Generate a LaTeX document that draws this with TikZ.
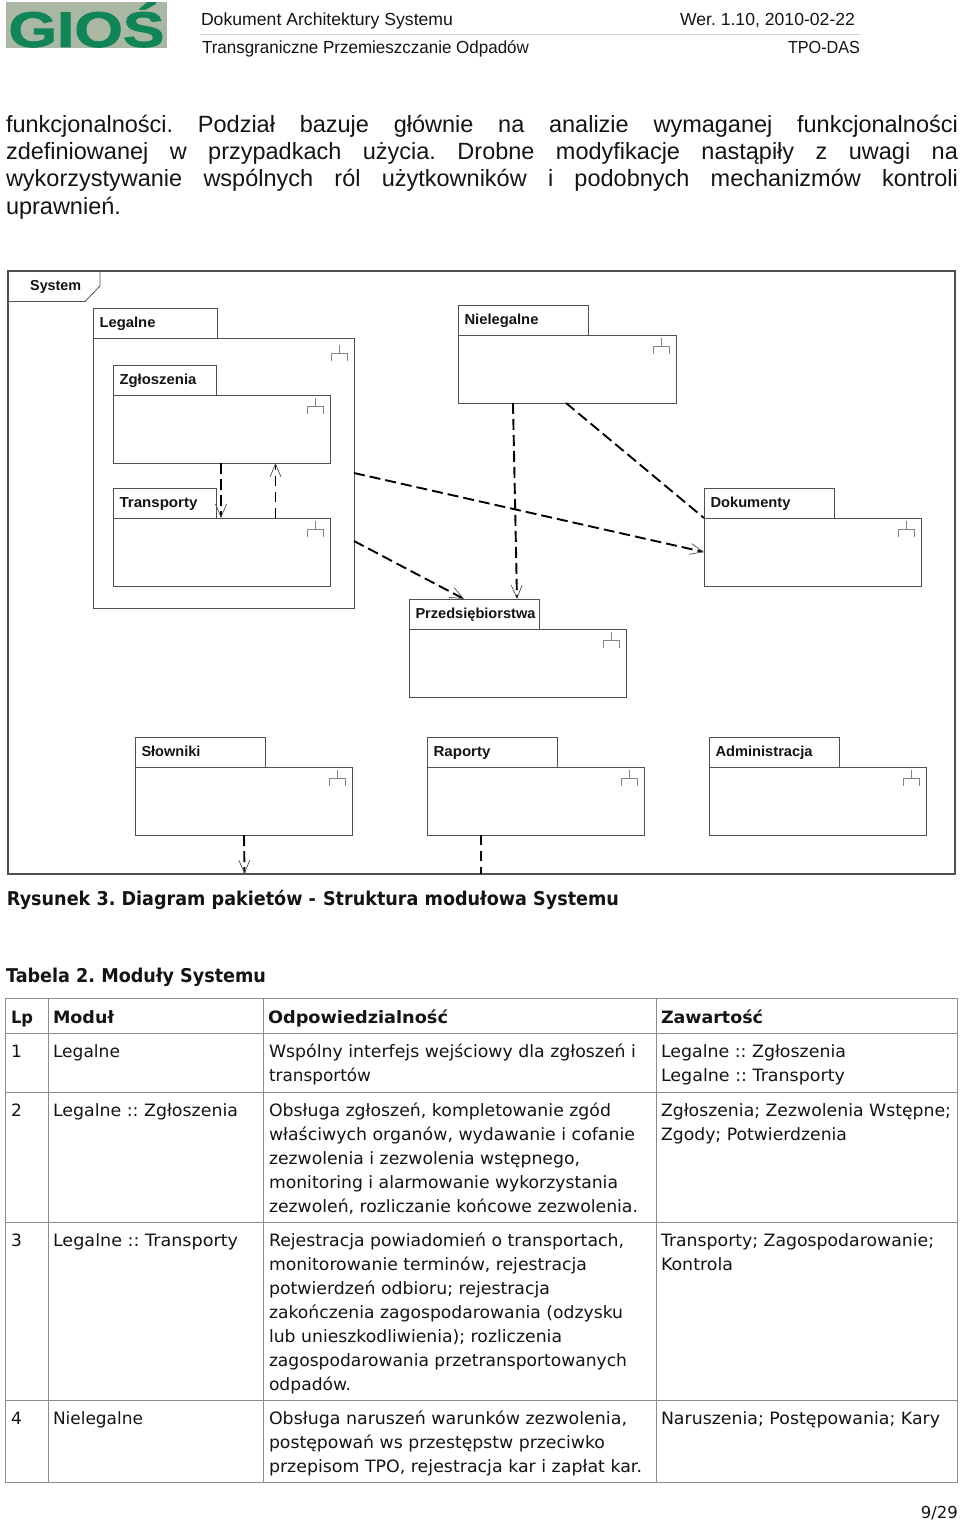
\documentclass[tikz,border=0pt]{standalone}
\usepackage{graphicx}
\usepackage{fontspec}
\setmainfont{Liberation Sans}
\newfontfamily\tblfont{DejaVu Sans}
\newfontfamily\logofont[BoldFeatures={FakeBold=1.6}]{Liberation Sans}
\AtBeginDocument{\frenchspacing}
\usetikzlibrary{arrows.meta}
\definecolor{pkline}{HTML}{505050}
\definecolor{gridc}{HTML}{8C8C8C}
\definecolor{txt}{HTML}{141414}
\definecolor{logobg}{HTML}{A9B7A3}
\definecolor{logog}{HTML}{0F8558}
\newcommand{\fitl}[2]{\strut\resizebox{#1pt}{\height}{#2}}
\newcommand{\fitb}[2]{\resizebox{#1pt}{\height}{#2}}
\tikzset{
  pkbody/.style={draw=pkline,line width=.9pt,fill=white,rectangle,inner sep=0pt,outer sep=0pt,anchor=north west},
  pktab/.style={draw=pkline,line width=.9pt,rectangle,inner ysep=0pt,inner xsep=6.5pt,outer sep=0pt,anchor=north west,align=left,text height=11.5pt,text depth=3.5pt,font=\bfseries\fontsize{14.5}{16}\selectfont,text=txt},
  pkicon/.style={draw=pkline!70,line width=.7pt},
  dep/.style={draw=black,line width=1.9pt,dash pattern=on 11pt off 5pt},
  depthin/.style={draw=black,line width=1.2pt,dash pattern=on 10pt off 6pt},
  openhead/.style={-{Straight Barb[length=13pt,width=11pt,line width=.7pt,color=pkline]}},
  cell/.style={anchor=north west,inner sep=0pt,outer sep=0pt,align=left,text=txt,font=\tblfont\fontsize{17}{24}\selectfont},
  headcell/.style={cell,font=\tblfont\bfseries\fontsize{17}{24}\selectfont},
  gridline/.style={draw=gridc,line width=.9pt},
  head/.style={anchor=base west,inner sep=0pt,outer sep=0pt,text=txt,font=\fontsize{17.5}{20}\selectfont},
  capt/.style={anchor=base west,inner sep=0pt,outer sep=0pt,text=txt,font=\tblfont\bfseries\fontsize{19}{22}\selectfont},
}
% id, x, tab top, tab width, body width, label, label width, body height, icon offset
\newcommand{\pk}[9]{%
  \node[pktab,minimum width=#4pt,minimum height=30pt,text width=#4pt-13pt] (#1t) at (#2,#3) {\fitb{#7}{#6}};
  \node[pkbody,minimum width=#5pt,minimum height=#8pt] (#1) at (#2,#3+30) {};
  \coordinate (#1i) at ([xshift=-15pt,yshift=-#9pt]#1.north east);
  \draw[pkicon] (#1i) -- ++(0,8);
  \draw[pkicon] ([xshift=-8pt,yshift=-16pt]#1i) -- ++(0,-8) -- ++(16,0) -- ++(0,8);
}
\begin{document}
\begin{tikzpicture}[x=1pt,y=-1pt]
\useasboundingbox (0,0) rectangle (960,1521);
\fill[white] (0,0) rectangle (960,1521);

% logo
\node[fill=logobg,minimum width=161pt,minimum height=46pt,anchor=north west,inner sep=0pt,outer sep=0pt,text=logog,font=\logofont\bfseries\fontsize{50}{50}\selectfont] (logo) at (6,2) {\raisebox{-5pt}{\resizebox{156pt}{\height}{GIOŚ}}};

% page header
\node[head] (h1) at (201,25) {\fitb{252}{Dokument Architektury Systemu}};
\node[head] (h2) at (680,25) {\fitb{175}{Wer. 1.10, 2010-02-22}};
\node[head] (h3) at (202,53) {\fitb{327}{Transgraniczne Przemieszczanie Odpadów}};
\node[head] (h4) at (788,53) {\fitb{72}{TPO-DAS}};
\draw[gridc!40,line width=.7pt] (200,34) -- (860,34);

% paragraph
\node[anchor=north west,inner sep=0pt,outer sep=0pt,align=left,text=txt,font=\fontsize{23.5}{27.33}\selectfont] (para) at (6,113) {%
\strut\makebox[952pt][s]{funkcjonalności. Podział bazuje głównie na analizie wymaganej funkcjonalności}\\
\strut\makebox[952pt][s]{zdefiniowanej w przypadkach użycia. Drobne modyfikacje nastąpiły z uwagi na}\\
\strut\makebox[952pt][s]{wykorzystywanie wspólnych ról użytkowników i podobnych mechanizmów kontroli}\\
\strut uprawnień.};

% diagram frame
\node[draw=pkline,line width=1.5pt,rectangle,inner sep=0pt,outer sep=0pt,anchor=north west,minimum width=947pt,minimum height=603pt] (frame) at (8,271) {};
\draw[draw=pkline,line width=.8pt] (8,301.5) -- (85,301.5) -- (100,286) -- (100,271);
\node[anchor=base west,inner sep=0pt,text=txt,font=\bfseries\fontsize{14.5}{16}\selectfont] (systemlabel) at (30,290.5) {\fitb{51}{System}};

% packages
\pk{leg}{93}{308}{124}{261}{Legalne}{56}{270}{7}
\pk{zgl}{113}{365}{103}{217}{Zgłoszenia}{77}{68}{3}
\pk{tra}{113}{488}{103}{217}{Transporty}{78}{68}{3}
\pk{nie}{458}{305}{130}{218}{Nielegalne}{74}{68}{3}
\pk{dok}{704}{488}{130}{217}{Dokumenty}{80}{68}{3}
\pk{prz}{409}{599}{130}{217}{Przedsiębiorstwa}{120}{68}{3}
\pk{slo}{135}{737}{130}{217}{Słowniki}{59}{68}{3}
\pk{rap}{427}{737}{130}{217}{Raporty}{57}{68}{3}
\pk{adm}{709}{737}{130}{217}{Administracja}{97}{68}{3}

% dependencies
\draw[dep,openhead] ([xshift=108pt]zgl.south west) -- ([xshift=108pt]tra.north west);
\draw[depthin,openhead] ([xshift=162.5pt]tra.north west) -- ([xshift=162.5pt]zgl.south west);
\draw[dep,openhead] ([yshift=-135pt]leg.north east) -- ([yshift=-34pt]dok.north west);
\draw[dep,openhead] ([yshift=-203pt]leg.north east) -- ([xshift=55pt]przt.north west);
\draw[dep,openhead] ([xshift=55pt]nie.south west) -- ([xshift=108pt]przt.north west);
\draw[dep] ([xshift=108pt]nie.south west) -- (dok.north west);
\draw[dep,openhead] ([xshift=109pt]slo.south west) -- ([xshift=236.5pt]frame.south west);
\draw[depthin] ([xshift=54pt]rap.south west) -- ([xshift=473pt]frame.south west);

% captions
\node[capt] (cap1) at (7,905) {\fitb{309}{Rysunek 3. Diagram pakietów -}\hspace{7pt}\fitb{296}{Struktura modułowa Systemu}};
\node[capt] (cap2) at (6,982) {\fitb{260}{Tabela 2. Moduły Systemu}};

% table grid
\draw[gridline] (5,998) rectangle (957,1482);
\foreach \yy in {1033,1092,1222,1400} \draw[gridline] (5,\yy) -- (957,\yy);
\foreach \xx in {48,263,656} \draw[gridline] (\xx,998) -- (\xx,1482);

% table header (baseline minus 16.8)
\node[headcell] (th1) at (11,1006.2) {\fitl{22}{Lp}};
\node[headcell] (th2) at (53,1006.2) {\fitl{61}{Moduł}};
\node[headcell] (th3) at (268,1006.2) {\fitl{180}{Odpowiedzialność}};
\node[headcell] (th4) at (661,1006.2) {\fitl{102}{Zawartość}};

% row 1
\node[cell] (r1a) at (11,1040.2) {\strut 1};
\node[cell] (r1b) at (53,1040.2) {\fitl{67}{Legalne}};
\node[cell] (r1c) at (269,1040.2) {\fitl{367}{Wspólny interfejs wejściowy dla zgłoszeń i}\\\fitl{102}{transportów}};
\node[cell] (r1d) at (661,1040.2) {\fitl{185}{Legalne :: Zgłoszenia}\\\fitl{184}{Legalne :: Transporty}};

% row 2
\node[cell] (r2a) at (11,1099.2) {\strut 2};
\node[cell] (r2b) at (53,1099.2) {\fitl{185}{Legalne :: Zgłoszenia}};
\node[cell] (r2c) at (269,1099.2) {\fitl{342}{Obsługa zgłoszeń, kompletowanie zgód}\\\fitl{366}{właściwych organów, wydawanie i cofanie}\\\fitl{311}{zezwolenia i zezwolenia wstępnego,}\\\fitl{349}{monitoring i alarmowanie wykorzystania}\\\fitl{369}{zezwoleń, rozliczanie końcowe zezwolenia.}};
\node[cell] (r2d) at (661,1099.2) {\fitl{290}{Zgłoszenia; Zezwolenia Wstępne;}\\\fitl{186}{Zgody; Potwierdzenia}};

% row 3
\node[cell] (r3a) at (11,1229.2) {\strut 3};
\node[cell] (r3b) at (53,1229.2) {\fitl{185}{Legalne :: Transporty}};
\node[cell] (r3c) at (269,1229.2) {\fitl{355}{Rejestracja powiadomień o transportach,}\\\fitl{318}{monitorowanie terminów, rejestracja}\\\fitl{281}{potwierdzeń odbioru; rejestracja}\\\fitl{354}{zakończenia zagospodarowania (odzysku}\\\fitl{293}{lub unieszkodliwienia); rozliczenia}\\\fitl{358}{zagospodarowania przetransportowanych}\\\fitl{82}{odpadów.}};
\node[cell] (r3d) at (661,1229.2) {\fitl{273}{Transporty; Zagospodarowanie;}\\\fitl{72}{Kontrola}};

% row 4
\node[cell] (r4a) at (11,1407.2) {\strut 4};
\node[cell] (r4b) at (53,1407.2) {\fitl{90}{Nielegalne}};
\node[cell] (r4c) at (269,1407.2) {\fitl{358}{Obsługa naruszeń warunków zezwolenia,}\\\fitl{336}{postępowań ws przestępstw przeciwko}\\\fitl{373}{przepisom TPO, rejestracja kar i zapłat kar.}};
\node[cell] (r4d) at (661,1407.2) {\fitl{279}{Naruszenia; Postępowania; Kary}};

% page number
\node[anchor=base east,inner sep=0pt,text=txt,font=\tblfont\fontsize{16.5}{20}\selectfont] (pageno) at (958,1518) {9/29};
\end{tikzpicture}
\end{document}
